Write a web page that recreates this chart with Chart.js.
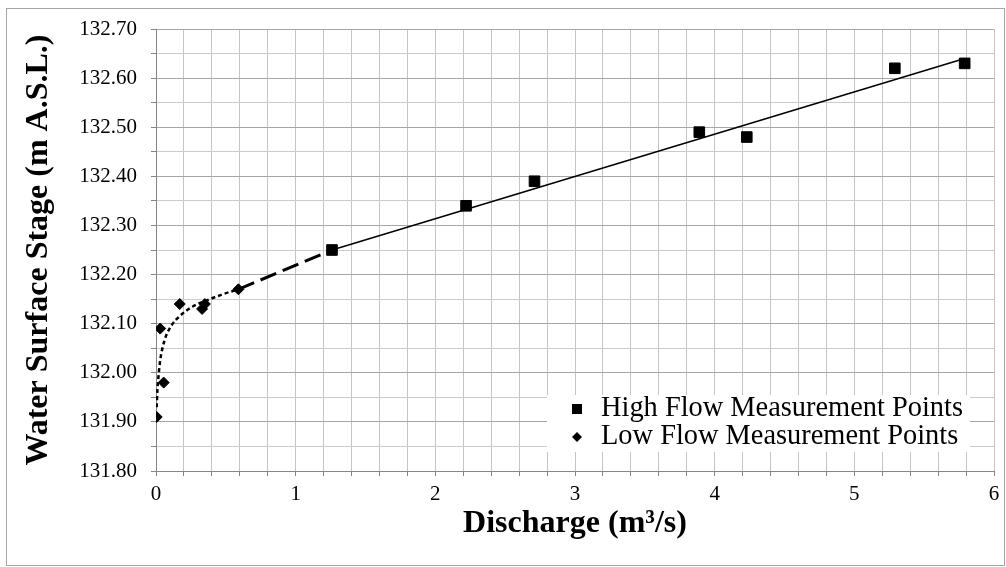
<!DOCTYPE html>
<html>
<head>
<meta charset="utf-8">
<script src="https://cdn.jsdelivr.net/npm/chart.js@4.4.1/dist/chart.umd.min.js"></script>
<style>
  html, body { margin: 0; padding: 0; background: #fff; }
  #wrap { width: 1006px; height: 567px; position: relative; }
</style>
</head>
<body>
<div id="wrap"><canvas id="chart"></canvas></div>
<script>
// measured points
const highQ = [1.26, 2.22, 2.71, 3.89, 4.23, 5.29, 5.79];
const highStage = [132.25, 132.34, 132.39, 132.49, 132.48, 132.62, 132.63];
const lowQ = [0.005, 0.055, 0.03, 0.17, 0.33, 0.35, 0.59];
const lowStage = [131.91, 131.98, 132.09, 132.14, 132.13, 132.14, 132.17];

// fitted curves
const lowFitQ = [0.005, 0.01, 0.017, 0.03, 0.06, 0.108, 0.168, 0.263, 0.36, 0.479, 0.594];
const lowFitStage = [131.93, 131.964, 131.99, 132.025, 132.065, 132.095, 132.115, 132.135, 132.147, 132.16, 132.17];
const linkQ = [0.59, 1.26];
const linkStage = [132.17, 132.25];
const highFitQ = [1.26, 5.79];
const highFitStage = [132.25, 132.64];

// axes
const xMin = 0, xMax = 6, xStep = 0.2;
const yMin = 131.8, yMax = 132.7, yStep = 0.05;

const SERIF = "'Liberation Serif', 'Times New Roman', serif";
const pts = (xs, ys) => xs.map((x, i) => ({ x: x, y: ys[i] }));
const isWhole = (v, k) => Math.abs(Math.round(v * k) - v * k) < 1e-6;

// legend drawn inside the plot, bottom right
const insideLegend = {
  id: 'insideLegend',
  afterDraw(chart) {
    const ctx = chart.ctx;
    ctx.save();
    ctx.fillStyle = '#fff';
    ctx.fillRect(547, 395, 423, 57);
    const rows = chart.data.datasets.filter(d => d.inLegend);
    rows.forEach((d, i) => {
      const y = 409 + i * 28;
      ctx.fillStyle = '#000';
      if (d.pointStyle === 'rect') {
        ctx.fillRect(572, y - 5, 10, 10);
      } else {
        ctx.beginPath();
        ctx.moveTo(577, y - 5);
        ctx.lineTo(582, y);
        ctx.lineTo(577, y + 5);
        ctx.lineTo(572, y);
        ctx.closePath();
        ctx.fill();
      }
      ctx.font = '28.4px ' + SERIF;
      ctx.textBaseline = 'middle';
      ctx.textAlign = 'left';
      ctx.fillText(d.label, 601, y);
    });
    // outer frame
    ctx.strokeStyle = '#a6a6a6';
    ctx.lineWidth = 1;
    ctx.strokeRect(6.5, 8.5, 998, 557);
    ctx.restore();
  }
};

new Chart(document.getElementById('chart'), {
  type: 'scatter',
  data: {
    datasets: [
      {
        label: 'High Flow Measurement Points',
        data: pts(highQ, highStage),
        pointStyle: 'rect',
        pointRadius: 7.5,
        backgroundColor: '#000',
        borderColor: '#000',
        borderWidth: 1,
        inLegend: true,
        order: 0
      },
      {
        label: 'Low Flow Measurement Points',
        data: pts(lowQ, lowStage),
        pointStyle: 'rectRot',
        pointRadius: 5.5,
        backgroundColor: '#000',
        borderColor: '#000',
        borderWidth: 1,
        inLegend: true,
        order: 0
      },
      {
        label: 'Low flow fit',
        data: pts(lowFitQ, lowFitStage),
        showLine: true,
        pointRadius: 0,
        borderColor: '#000',
        borderWidth: 2.5,
        borderDash: [4, 3],
        cubicInterpolationMode: 'monotone',
        order: 1
      },
      {
        label: 'Link',
        data: pts(linkQ, linkStage),
        showLine: true,
        pointRadius: 0,
        borderColor: '#000',
        borderWidth: 3,
        borderDash: [17, 7],
        order: 1
      },
      {
        label: 'High flow fit',
        data: pts(highFitQ, highFitStage),
        showLine: true,
        pointRadius: 0,
        borderColor: '#000',
        borderWidth: 1.5,
        order: 1
      }
    ]
  },
  options: {
    responsive: true,
    maintainAspectRatio: false,
    animation: false,
    layout: { padding: { left: 0, right: 12, top: 29, bottom: 0 } },
    plugins: {
      legend: { display: false },
      tooltip: { enabled: false }
    },
    scales: {
      x: {
        type: 'linear',
        min: xMin, max: xMax,
        afterFit: s => { s.height = 96; },
        ticks: {
          stepSize: xStep,
          autoSkip: false,
          maxRotation: 0,
          padding: 6,
          color: '#000',
          font: { family: SERIF, size: 21 },
          callback: v => isWhole(v, 1) ? String(Math.round(v)) : ''
        },
        grid: { color: '#c4c4c4', tickColor: '#868686', tickLength: 5 },
        border: { color: '#868686' },
        title: {
          display: true,
          text: 'Discharge (m³/s)',
          color: '#000',
          font: { family: SERIF, size: 32, weight: 'bold' },
          padding: { top: 0, bottom: 24 }
        }
      },
      y: {
        type: 'linear',
        min: yMin, max: yMax,
        afterFit: s => { s.width = 156; },
        ticks: {
          stepSize: yStep,
          autoSkip: false,
          padding: 14,
          color: '#000',
          font: { family: SERIF, size: 21 },
          callback: v => isWhole(v, 10) ? v.toFixed(2) : ''
        },
        grid: {
          color: c => (c.tick && isWhole(c.tick.value, 10)) ? '#a6a6a6' : '#cbcbcb',
          tickColor: '#868686',
          tickLength: 5
        },
        border: { color: '#868686' },
        title: {
          display: true,
          text: 'Water Surface Stage (m A.S.L.)',
          color: '#000',
          font: { family: SERIF, size: 32, weight: 'bold' },
          padding: { top: 20, bottom: 0 }
        }
      }
    }
  },
  plugins: [insideLegend]
});
</script>
</body>
</html>
